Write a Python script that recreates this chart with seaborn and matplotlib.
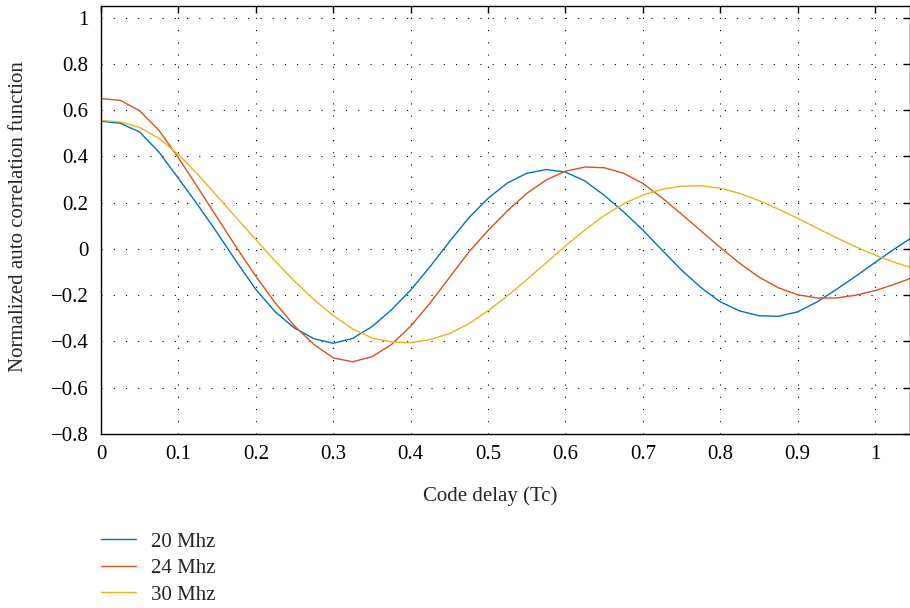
import numpy as np
import pandas as pd
import matplotlib
matplotlib.use("Agg")
import matplotlib.pyplot as plt
import seaborn as sns

# ---- data ----
code_delay = [0.0, 0.025, 0.05, 0.075, 0.1, 0.125, 0.15, 0.175, 0.2, 0.225, 0.25, 0.275,
              0.3, 0.325, 0.35, 0.375, 0.4, 0.425, 0.45, 0.475, 0.5, 0.525, 0.55, 0.575,
              0.6, 0.625, 0.65, 0.675, 0.7, 0.725, 0.75, 0.775, 0.8, 0.825, 0.85, 0.875,
              0.9, 0.925, 0.95, 0.975, 1.0, 1.025, 1.05]

acf_20mhz = [0.552, 0.543, 0.505, 0.418, 0.305, 0.190, 0.070, -0.055, -0.175, -0.272,
             -0.342, -0.388, -0.408, -0.387, -0.336, -0.264, -0.178, -0.077, 0.031, 0.134,
             0.219, 0.285, 0.327, 0.343, 0.332, 0.294, 0.232, 0.160, 0.081, -0.006,
             -0.092, -0.167, -0.229, -0.268, -0.289, -0.291, -0.272, -0.229, -0.175, -0.118,
             -0.058, 0.000, 0.055]

acf_24mhz = [0.650, 0.642, 0.597, 0.512, 0.394, 0.266, 0.136, 0.006, -0.118, -0.233,
             -0.333, -0.413, -0.471, -0.488, -0.466, -0.414, -0.334, -0.234, -0.124, -0.014,
             0.080, 0.165, 0.240, 0.298, 0.336, 0.354, 0.351, 0.327, 0.283, 0.220,
             0.150, 0.078, 0.006, -0.062, -0.122, -0.168, -0.198, -0.212, -0.212, -0.200,
             -0.180, -0.153, -0.122]

acf_30mhz = [0.555, 0.549, 0.525, 0.478, 0.408, 0.322, 0.228, 0.134, 0.040, -0.053,
             -0.140, -0.219, -0.288, -0.346, -0.385, -0.402, -0.405, -0.392, -0.366, -0.324,
             -0.267, -0.203, -0.133, -0.060, 0.013, 0.082, 0.144, 0.195, 0.233, 0.258,
             0.271, 0.273, 0.262, 0.240, 0.209, 0.172, 0.132, 0.090, 0.048, 0.009,
             -0.027, -0.058, -0.085]

series_names = ["20 Mhz", "24 Mhz", "30 Mhz"]
x_ticks = [0, 0.1, 0.2, 0.3, 0.4, 0.5, 0.6, 0.7, 0.8, 0.9, 1]
y_ticks = [-0.8, -0.6, -0.4, -0.2, 0, 0.2, 0.4, 0.6, 0.8, 1]

df = pd.concat([
    pd.DataFrame({"Code delay": code_delay, "acf": vals, "series": name})
    for name, vals in zip(series_names, [acf_20mhz, acf_24mhz, acf_30mhz])
], ignore_index=True)

sns.set_style("white")
plt.rcParams["font.family"] = ["Liberation Serif", "DejaVu Serif"]
plt.rcParams["axes.unicode_minus"] = True

colors = ["#0072BD", "#D95319", "#EDB120"]
FS = 15

fig = plt.figure(figsize=(9.10, 6.08), dpi=100)
ax = fig.add_axes([101 / 910, 1 - 434 / 608, 809 / 910, (434 - 6) / 608])

sns.lineplot(data=df, x="Code delay", y="acf", hue="series", palette=colors,
             linewidth=1.0, ax=ax, legend=False, sort=False)

ax.set_xlim(0, 1.045)
ax.set_ylim(-0.8, 1.05)
ax.set_xticks(x_ticks)
ax.set_xticklabels([("%g" % v) for v in x_ticks])
ax.set_yticks(y_ticks)
ax.set_yticklabels([("%g" % v).replace("-", "\u2212") for v in y_ticks])

ax.grid(True, color="black", linestyle=(0, (1, 10)), linewidth=0.8)
for s in ax.spines.values():
    s.set_visible(True)
    s.set_color("black")
    s.set_linewidth(1.0)

ax.tick_params(direction="in", length=5, width=1.0, top=True, right=True,
               labelsize=FS, colors="black")
ax.tick_params(axis="y", pad=9)
ax.tick_params(axis="x", pad=8)

ax.set_xlabel("Code delay (Tc)", fontsize=FS)
ax.set_ylabel("Normalized auto correlation function", fontsize=FS)
ax.xaxis.set_label_coords(0.481, -0.122)
ax.yaxis.set_label_coords(-0.090, 0.507)

handles = [plt.Line2D([], [], color=c, lw=1.0) for c in colors]
fig.legend(handles, series_names, loc="upper left",
           bbox_to_anchor=(101 / 910, 1 - 532 / 608), frameon=False,
           fontsize=FS, handlelength=1.7, handletextpad=0.7,
           labelspacing=0.33, borderpad=0, borderaxespad=0)

fig.savefig("out.png", dpi=100)
